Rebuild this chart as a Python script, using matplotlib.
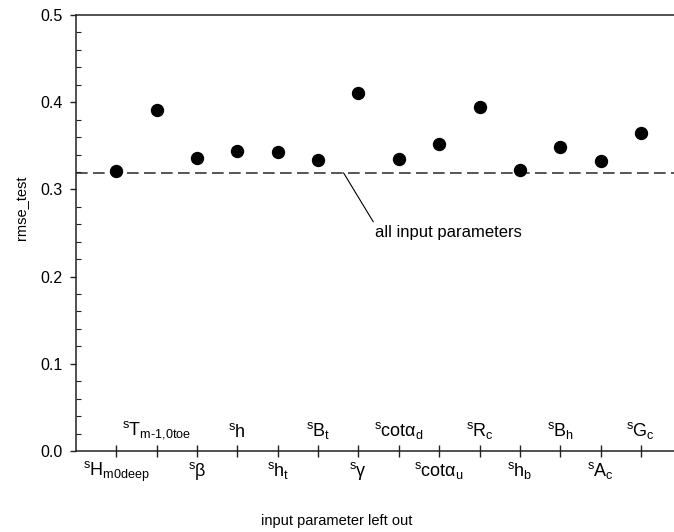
import matplotlib
matplotlib.use("Agg")
import matplotlib.pyplot as plt
from matplotlib.ticker import MultipleLocator, FormatStrFormatter

plt.rcParams["font.family"] = ["Liberation Sans", "DejaVu Sans"]
plt.rcParams["mathtext.fontset"] = "custom"
plt.rcParams["mathtext.rm"] = "Liberation Sans"
plt.rcParams["mathtext.it"] = "Liberation Sans"
plt.rcParams["mathtext.bf"] = "Liberation Sans:bold"

# parameter left out of the input set
param_labels = [
    r"$^{s}H_{m0deep}$",
    r"$^{s}T_{m\text{-}1{,}0toe}$",
    r"$^{s}\beta$",
    r"$^{s}h$",
    r"$^{s}h_{t}$",
    r"$^{s}B_{t}$",
    r"$^{s}\gamma$",
    r"$^{s}cot\alpha_{d}$",
    r"$^{s}cot\alpha_{u}$",
    r"$^{s}R_{c}$",
    r"$^{s}h_{b}$",
    r"$^{s}B_{h}$",
    r"$^{s}A_{c}$",
    r"$^{s}G_{c}$",
]
rmse_test = [0.321, 0.391, 0.336, 0.344, 0.343, 0.334, 0.410,
             0.335, 0.352, 0.394, 0.322, 0.349, 0.333, 0.365]
rmse_all_params = 0.319

positions = list(range(1, len(param_labels) + 1))

fig = plt.figure(figsize=(6.74, 5.32), dpi=100)
ax = fig.add_axes([76 / 674, 81 / 532, 598 / 674, 436 / 532])

ax.axhline(rmse_all_params, color="#3a3a3a", lw=1.2, ls=(0, (7, 3.2)), zorder=1)
ax.plot(positions, rmse_test, "o", color="black", ms=8.6, zorder=3, clip_on=False)

ax.set_xlim(0, 14.82)
ax.set_ylim(0, 0.5)

ax.yaxis.set_major_locator(MultipleLocator(0.1))
ax.yaxis.set_minor_locator(MultipleLocator(0.02))
ax.yaxis.set_major_formatter(FormatStrFormatter("%.1f"))
ax.tick_params(axis="y", which="major", direction="out", length=4.3, width=1,
               labelsize=11.5, pad=5.5, color="#222222")
ax.tick_params(axis="y", which="minor", direction="in", length=3.6, width=0.8,
               color="#222222")

ax.set_xticks(positions)
ax.set_xticklabels([])
ax.tick_params(axis="x", which="major", direction="inout", length=8.6, width=1,
               color="#222222")

for s in ["left", "bottom", "top"]:
    ax.spines[s].set_color("#222222")
    ax.spines[s].set_linewidth(1.1)
ax.spines["right"].set_visible(False)

# category labels, alternating below and above the x axis
for i, (x, lab) in enumerate(zip(positions, param_labels)):
    if i % 2 == 0:
        ax.annotate(lab, xy=(x, 0), xytext=(0, -6.5), textcoords="offset points",
                    ha="center", va="top", fontsize=13, annotation_clip=False)
    else:
        ax.annotate(lab, xy=(x, 0), xytext=(0, 7), textcoords="offset points",
                    ha="center", va="bottom", fontsize=13, annotation_clip=False)

# reference line annotation
ax.annotate("all input parameters", xy=(6.63, rmse_all_params),
            xytext=(7.41, 0.251), textcoords="data",
            ha="left", va="center", fontsize=12,
            arrowprops=dict(arrowstyle="-", color="black", lw=0.8,
                            shrinkA=0, shrinkB=0,
                            relpos=(0.0, 1.0)))

fig.text(0.5, 11 / 532, "input parameter left out", ha="center", va="center",
         fontsize=10.5)
fig.text(22 / 674, 1 - 208 / 532, "rmse_test", ha="center", va="center",
         rotation=90, fontsize=10.5)

fig.savefig("out.png", dpi=100)
